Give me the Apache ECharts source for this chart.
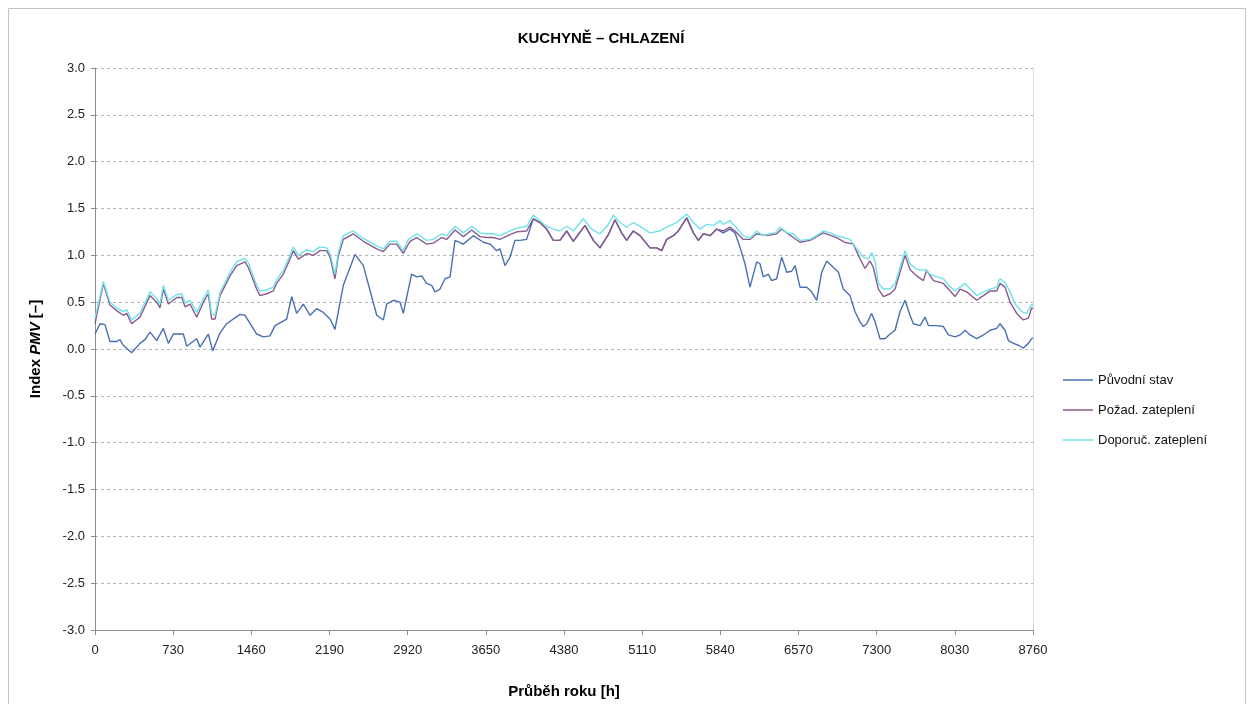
<!DOCTYPE html>
<html>
<head>
<meta charset="utf-8">
<script src="https://cdn.jsdelivr.net/npm/echarts@6/dist/echarts.min.js"></script>
<style>
  html, body { margin: 0; padding: 0; background: #fff; }
  #chart { width: 1254px; height: 704px; }
</style>
</head>
<body>
<div id="chart"></div>
<script>
// osa x: hodiny v roce
const xTicks = [0, 730, 1460, 2190, 2920, 3650, 4380, 5110, 5840, 6570, 7300, 8030, 8760]

// Původní stav
const puvodniHours = [
  0, 47, 93, 140, 202, 233, 264, 342, 420, 467,
  514, 576, 638, 685, 732, 825, 856, 950, 981, 1058,
  1099, 1167, 1229, 1354, 1401, 1510, 1572, 1634, 1681, 1790,
  1837, 1883, 1946, 2008, 2070, 2132, 2195, 2241, 2319, 2428,
  2506, 2631, 2693, 2724, 2786, 2848, 2879, 2957, 3004, 3051,
  3097, 3144, 3175, 3222, 3269, 3316, 3362, 3440, 3533, 3627,
  3689, 3751, 3782, 3829, 3876, 3922, 3969, 4031, 4093, 4155,
  4218, 4280, 4342, 4405, 4467, 4576, 4654, 4716, 4794, 4856,
  4918, 4965, 5027, 5090, 5183, 5245, 5292, 5339, 5401, 5448,
  5526, 5588, 5635, 5682, 5744, 5806, 5868, 5930, 5977, 6023,
  6070, 6117, 6179, 6210, 6241, 6288, 6319, 6366, 6413, 6460,
  6506, 6538, 6584, 6647, 6693, 6740, 6787, 6833, 6896, 6943,
  6988, 7051, 7097, 7144, 7175, 7207, 7253, 7285, 7331, 7378,
  7425, 7472, 7518, 7565, 7611, 7643, 7705, 7752, 7783, 7861,
  7923, 7970, 8032, 8079, 8126, 8172, 8235, 8297, 8359, 8421,
  8452, 8499, 8530, 8577, 8624, 8670, 8717, 8748, 8760
]
const puvodniPmv = [
  0.16, 0.27, 0.26, 0.08, 0.08, 0.10, 0.04, -0.04, 0.06, 0.10,
  0.18, 0.09, 0.22, 0.06, 0.16, 0.16, 0.03, 0.11, 0.02, 0.16,
  -0.02, 0.17, 0.27, 0.37, 0.36, 0.16, 0.13, 0.14, 0.25, 0.32,
  0.56, 0.38, 0.48, 0.36, 0.43, 0.39, 0.32, 0.21, 0.68, 1.01,
  0.89, 0.36, 0.31, 0.48, 0.52, 0.50, 0.38, 0.80, 0.77, 0.78,
  0.70, 0.68, 0.61, 0.64, 0.75, 0.77, 1.16, 1.12, 1.21, 1.14,
  1.12, 1.05, 1.07, 0.89, 0.98, 1.16, 1.16, 1.17, 1.39, 1.35,
  1.28, 1.16, 1.16, 1.26, 1.15, 1.32, 1.16, 1.08, 1.22, 1.38,
  1.24, 1.16, 1.26, 1.21, 1.08, 1.08, 1.05, 1.17, 1.21, 1.26,
  1.40, 1.24, 1.16, 1.23, 1.21, 1.28, 1.24, 1.28, 1.24, 1.09,
  0.91, 0.66, 0.93, 0.91, 0.77, 0.80, 0.73, 0.75, 0.98, 0.82,
  0.83, 0.89, 0.66, 0.66, 0.61, 0.52, 0.82, 0.94, 0.87, 0.82,
  0.64, 0.57, 0.40, 0.29, 0.24, 0.27, 0.38, 0.29, 0.11, 0.11,
  0.16, 0.20, 0.40, 0.52, 0.36, 0.27, 0.25, 0.34, 0.25, 0.25,
  0.24, 0.15, 0.13, 0.15, 0.20, 0.15, 0.11, 0.15, 0.20, 0.22,
  0.27, 0.20, 0.09, 0.06, 0.04, 0.01, 0.06, 0.11, 0.12
]

// Požad. zateplení
const pozadHours = [
  0, 78, 140, 202, 264, 296, 342, 420, 514, 576,
  607, 638, 685, 763, 810, 841, 887, 950, 1012, 1058,
  1089, 1121, 1167, 1261, 1323, 1401, 1432, 1510, 1541, 1603,
  1665, 1696, 1759, 1821, 1852, 1899, 1977, 2039, 2101, 2164,
  2195, 2241, 2272, 2319, 2412, 2506, 2631, 2693, 2755, 2817,
  2879, 2942, 3004, 3097, 3160, 3238, 3284, 3362, 3440, 3518,
  3596, 3658, 3720, 3782, 3876, 3938, 4031,
  4093, 4155, 4218, 4280, 4342, 4405, 4467, 4576, 4654, 4716,
  4794, 4856, 4918, 4965, 5027, 5090, 5183, 5245, 5292, 5339,
  5401, 5448, 5526, 5588, 5635, 5682, 5744, 5806, 5868, 5930, 5977,
  6055, 6117, 6179, 6272, 6366, 6413, 6522, 6584, 6677, 6802,
  6927, 6999, 7082, 7129, 7191, 7238, 7269, 7316, 7363, 7425,
  7472, 7518, 7565, 7611, 7674, 7736, 7767, 7830, 7923, 7970,
  8032, 8079, 8141, 8235, 8297, 8359, 8421, 8452, 8499, 8546,
  8608, 8670, 8717, 8748, 8760
]
const pozadPmv = [
  0.27, 0.70, 0.47, 0.41, 0.36, 0.38, 0.27, 0.34, 0.57, 0.50,
  0.44, 0.64, 0.48, 0.55, 0.55, 0.45, 0.48, 0.34, 0.50, 0.59,
  0.32, 0.32, 0.57, 0.78, 0.89, 0.93, 0.87, 0.64, 0.57, 0.59,
  0.62, 0.70, 0.80, 0.96, 1.05, 0.96, 1.02, 1.00, 1.05, 1.05,
  0.98, 0.75, 0.99, 1.17, 1.23, 1.15, 1.07, 1.04, 1.12, 1.12,
  1.02, 1.15, 1.19, 1.12, 1.13, 1.19, 1.17, 1.27, 1.20, 1.27,
  1.20, 1.19, 1.19, 1.17, 1.22, 1.25, 1.26,
  1.39, 1.35, 1.28, 1.16, 1.16, 1.26, 1.15, 1.32, 1.16, 1.08,
  1.22, 1.38, 1.24, 1.16, 1.26, 1.21, 1.08, 1.08, 1.05, 1.17,
  1.21, 1.26, 1.40, 1.24, 1.16, 1.23, 1.21, 1.28, 1.26, 1.30, 1.26,
  1.17, 1.17, 1.23, 1.21, 1.23, 1.28, 1.19, 1.14, 1.16, 1.24,
  1.19, 1.14, 1.12, 1.00, 0.86, 0.94, 0.87, 0.64, 0.56, 0.59,
  0.64, 0.82, 1.00, 0.85, 0.78, 0.73, 0.84, 0.73, 0.70, 0.64,
  0.56, 0.64, 0.61, 0.52, 0.57, 0.62, 0.62, 0.70, 0.66, 0.50,
  0.38, 0.31, 0.33, 0.44, 0.43
]

// Doporuč. zateplení
const doporucHours = [
  0, 78, 140, 202, 264, 296, 342, 420, 514, 576,
  607, 638, 685, 763, 810, 841, 887, 950, 1012, 1058,
  1089, 1121, 1167, 1261, 1323, 1401, 1432, 1510, 1541, 1603,
  1665, 1696, 1759, 1821, 1852, 1899, 1977, 2039, 2101, 2164,
  2195, 2241, 2272, 2319, 2412, 2506, 2631, 2693, 2755, 2817,
  2879, 2926, 3004, 3097, 3160, 3238, 3284, 3362, 3440, 3518,
  3596, 3658, 3720, 3782, 3876, 3938, 4031, 4093, 4155, 4218,
  4280, 4342, 4405, 4467, 4560, 4638, 4716, 4794, 4841, 4903,
  4965, 5027, 5090, 5183, 5276, 5339, 5432, 5526, 5588, 5650,
  5713, 5775, 5837, 5868, 5930, 5977, 6055, 6117, 6179, 6241,
  6304, 6351, 6398, 6460, 6522, 6584, 6677, 6740, 6802, 6865,
  6927, 6988, 7051, 7113, 7175, 7222, 7253, 7285, 7316, 7363,
  7425, 7472, 7518, 7565, 7611, 7674, 7720, 7752, 7799, 7861,
  7923, 7970, 8032, 8079, 8126, 8172, 8235, 8297, 8359, 8421,
  8452, 8499, 8546, 8592, 8655, 8701, 8748, 8760
]
const doporucPmv = [
  0.33, 0.72, 0.50, 0.44, 0.40, 0.42, 0.31, 0.38, 0.61, 0.54,
  0.48, 0.68, 0.52, 0.58, 0.59, 0.49, 0.52, 0.39, 0.54, 0.63,
  0.38, 0.36, 0.60, 0.82, 0.93, 0.97, 0.92, 0.68, 0.62, 0.63,
  0.66, 0.74, 0.84, 1.00, 1.09, 1.00, 1.06, 1.04, 1.09, 1.08,
  1.02, 0.80, 1.03, 1.21, 1.26, 1.18, 1.10, 1.07, 1.15, 1.15,
  1.05, 1.17, 1.23, 1.16, 1.17, 1.23, 1.21, 1.31, 1.24, 1.31,
  1.24, 1.23, 1.23, 1.21, 1.26, 1.29, 1.31, 1.43, 1.37, 1.31,
  1.28, 1.26, 1.31, 1.26, 1.39, 1.28, 1.23, 1.33, 1.43, 1.35,
  1.30, 1.35, 1.31, 1.24, 1.26, 1.30, 1.35, 1.44, 1.35, 1.28,
  1.33, 1.32, 1.37, 1.33, 1.37, 1.31, 1.21, 1.18, 1.26, 1.21,
  1.23, 1.24, 1.30, 1.24, 1.23, 1.16, 1.17, 1.21, 1.26, 1.24,
  1.21, 1.19, 1.17, 1.07, 0.98, 0.96, 1.03, 0.94, 0.70, 0.64,
  0.64, 0.70, 0.87, 1.05, 0.91, 0.85, 0.84, 0.85, 0.80, 0.77,
  0.75, 0.68, 0.62, 0.66, 0.70, 0.64, 0.57, 0.61, 0.64, 0.66,
  0.75, 0.71, 0.61, 0.48, 0.40, 0.38, 0.48, 0.46
]

const pairs = (hours, vals) => hours.map((h, i) => [h, vals[i]])

const font = '"Liberation Sans", Arial, sans-serif'

const lineSeries = (name, hours, vals, color) => ({
  name,
  type: 'line',
  data: pairs(hours, vals),
  symbol: 'none',
  smooth: false,
  lineStyle: { color, width: 1.4 },
  itemStyle: { color },
  animation: false
})

const myChart = echarts.init(document.getElementById('chart'))
myChart.setOption({
  animation: false,
  textStyle: { fontFamily: font },
  title: {
    text: 'KUCHYNĚ – CHLAZENÍ',
    left: 596,
    textAlign: 'center',
    top: 26,
    textStyle: { fontSize: 15, fontWeight: 'bold', color: '#000', fontFamily: font }
  },
  graphic: [{
    type: 'rect',
    shape: { x: 8.5, y: 8.5, width: 1237, height: 700 },
    style: { fill: 'none', stroke: '#c4c4c4', lineWidth: 1 },
    silent: true
  }],
  legend: {
    orient: 'vertical',
    left: 1058,
    top: 367,
    icon: 'rect',
    itemWidth: 30,
    itemHeight: 1.5,
    itemGap: 14,
    textStyle: { fontSize: 13, color: '#111', fontFamily: font, lineHeight: 16 },
    data: ['Původní stav', 'Požad. zateplení', 'Doporuč. zateplení']
  },
  grid: { left: 95, width: 938, top: 68, height: 564 },
  xAxis: {
    type: 'value',
    min: 0,
    max: 8760,
    interval: 730,
    name: 'Průběh roku [h]',
    nameLocation: 'middle',
    nameGap: 54,
    nameTextStyle: { fontSize: 15, fontWeight: 'bold', color: '#000', fontFamily: font },
    axisLine: { show: true, onZero: false, lineStyle: { color: '#8c8c8c', width: 1 } },
    axisTick: { show: true, length: 5, lineStyle: { color: '#8c8c8c' } },
    axisLabel: { fontSize: 13, color: '#222', margin: 14, formatter: v => String(v) },
    splitLine: { show: false }
  },
  yAxis: [{
    type: 'value',
    min: -3,
    max: 3,
    interval: 0.5,
    name: '{a|Index }{b|PMV}{a| [–]}',
    nameLocation: 'middle',
    nameGap: 52,
    nameTextStyle: {
      rich: {
        a: { fontSize: 15, fontWeight: 'bold', color: '#000', fontFamily: font },
        b: { fontSize: 15, fontWeight: 'bold', fontStyle: 'italic', color: '#000', fontFamily: font }
      }
    },
    axisLine: { show: true, lineStyle: { color: '#8c8c8c', width: 1 } },
    axisTick: { show: true, length: 4, lineStyle: { color: '#8c8c8c' } },
    axisLabel: { fontSize: 13, color: '#222', margin: 10, formatter: v => v.toFixed(1) },
    splitLine: { show: true, lineStyle: { color: '#b4b4b4', type: [3, 3], width: 1 } }
  }, {
    // pravý okraj grafu
    type: 'value',
    position: 'right',
    min: -3,
    max: 3,
    interval: 0.5,
    axisLine: { show: true, lineStyle: { color: '#dcdcdc', width: 1 } },
    axisTick: { show: false },
    axisLabel: { show: false },
    splitLine: { show: false }
  }],
  series: [
    lineSeries('Původní stav', puvodniHours, puvodniPmv, '#4a6fb0'),
    lineSeries('Požad. zateplení', pozadHours, pozadPmv, '#8a5a8e'),
    lineSeries('Doporuč. zateplení', doporucHours, doporucPmv, '#6fe3ea')
  ]
})
</script>
</body>
</html>
